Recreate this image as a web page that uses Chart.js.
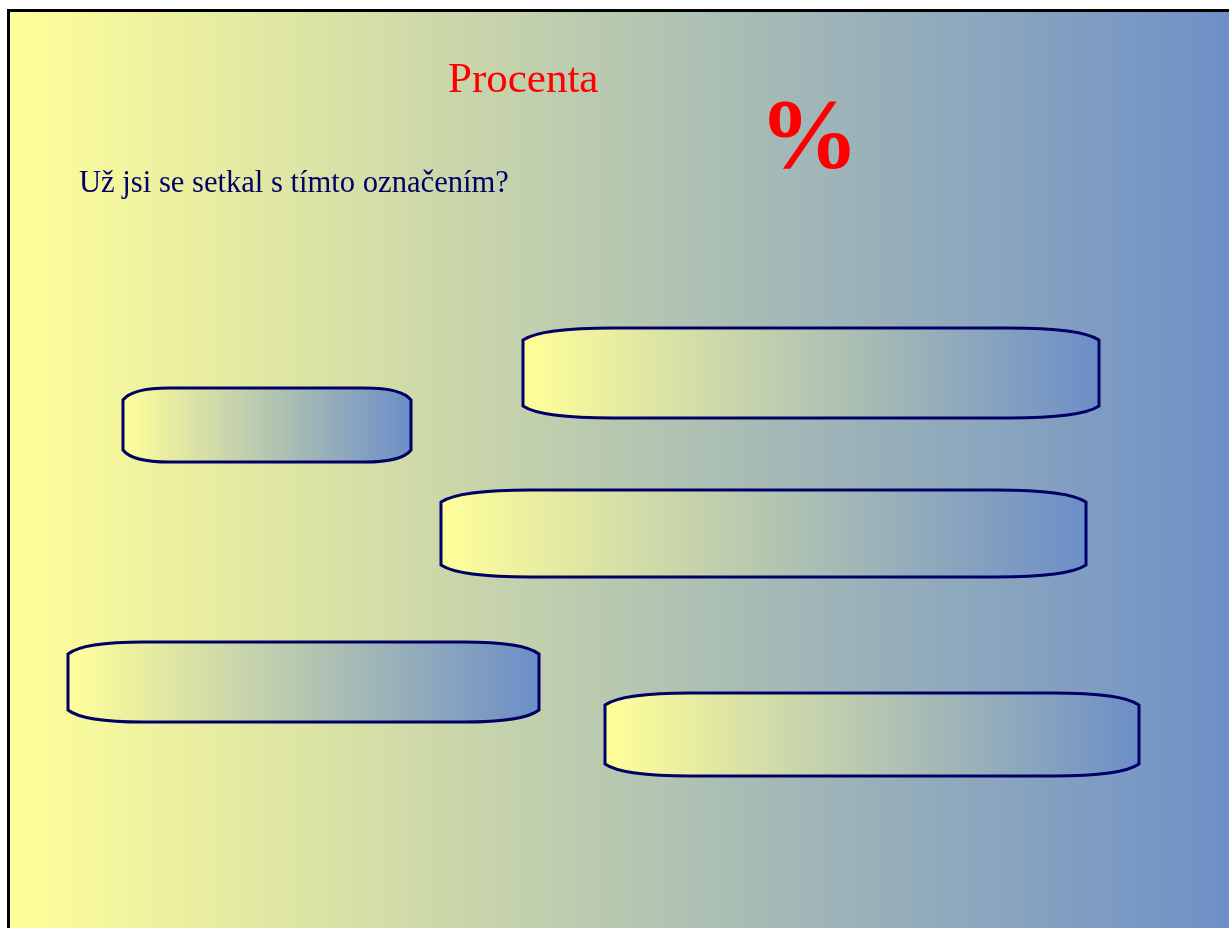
<!DOCTYPE html>
<html>
<head>
<meta charset="utf-8">
<script src="https://cdn.jsdelivr.net/npm/chart.js@4"></script>
<style>
  html, body { margin: 0; padding: 0; background: #fff; overflow: hidden; }
  #wrap { position: relative; width: 1229px; height: 928px; }
  #slide { position: absolute; left: 0; top: 0; }
  .txt { position: absolute; font-family: "Liberation Serif", "Times New Roman", serif; line-height: 1; white-space: nowrap; }
  #title { left: 448px; top: 56px; font-size: 43px; color: #ff0000; }
  #pct { left: 759px; top: 84px; font-size: 100px; font-weight: bold; color: #ff0000; }
  #question { left: 79px; top: 167px; font-size: 30.6px; color: #000066; }
</style>
</head>
<body>
<div id="wrap">
  <canvas id="slide" width="1229" height="928"></canvas>
  <div class="txt" id="title">Procenta</div>
  <div class="txt" id="pct">%</div>
  <div class="txt" id="question">Už jsi se setkal s tímto označením?</div>
</div>
<script>
// answer boxes on the slide, in slide units (x to the right, y downwards)
const boxNames = ['box 1', 'box 2', 'box 3', 'box 4', 'box 5'];
const boxLeft = [123, 523, 441, 68, 605];
const boxRight = [411, 1099, 1086, 539, 1139];
const boxTop = [388, 328, 490, 642, 693];
const boxBottom = [462, 418, 577, 722, 776];

const slideWidth = 1229;
const slideHeight = 928;

const yellow = [255, 255, 153];
const blue = [108, 142, 200];

function fade(ctx, x0, x1) {
    const g = ctx.createLinearGradient(x0, 0, x1, 0);
    g.addColorStop(0, `rgb(${yellow.join(',')})`);
    g.addColorStop(1, `rgb(${blue.join(',')})`);
    return g;
}

// slide background with the black frame
const slideBackground = {
    id: 'slideBackground',
    beforeDraw(chart) {
        const ctx = chart.ctx;
        ctx.save();
        ctx.fillStyle = '#ffffff';
        ctx.fillRect(0, 0, chart.width, chart.height);
        ctx.fillStyle = fade(ctx, 12, chart.width + 20);
        ctx.fillRect(9, 11, chart.width, chart.height);
        ctx.strokeStyle = '#000000';
        ctx.lineWidth = 3;
        ctx.beginPath();
        ctx.moveTo(8.5, chart.height + 5);
        ctx.lineTo(8.5, 10.5);
        ctx.lineTo(chart.width + 5, 10.5);
        ctx.stroke();
        ctx.restore();
    }
};

// draw each bar as a rounded "pill" box with its own gradient
const pillBoxes = {
    id: 'pillBoxes',
    afterDatasetsDraw(chart) {
        const ctx = chart.ctx;
        chart.data.datasets.forEach((ds, i) => {
            chart.getDatasetMeta(i).data.forEach(bar => {
                const p = bar.getProps(['x', 'y', 'base', 'height'], true);
                const l = Math.min(p.base, p.x), r = Math.max(p.base, p.x);
                const t = p.y - p.height / 2, b = p.y + p.height / 2;
                const rx = Math.min(90, (r - l) * 0.16), ry = 12;
                ctx.save();
                ctx.beginPath();
                ctx.moveTo(l, t + ry);
                ctx.quadraticCurveTo(l + rx * 0.2, t, l + rx, t);
                ctx.lineTo(r - rx, t);
                ctx.quadraticCurveTo(r - rx * 0.2, t, r, t + ry);
                ctx.lineTo(r, b - ry);
                ctx.quadraticCurveTo(r - rx * 0.2, b, r - rx, b);
                ctx.lineTo(l + rx, b);
                ctx.quadraticCurveTo(l + rx * 0.2, b, l, b - ry);
                ctx.closePath();
                ctx.fillStyle = fade(ctx, l, r);
                ctx.fill();
                ctx.strokeStyle = '#000066';
                ctx.lineWidth = 3;
                ctx.stroke();
                ctx.restore();
            });
        });
    }
};

const datasets = boxNames.map((name, i) => ({
    label: name,
    data: [{ x: [boxLeft[i], boxRight[i]], y: (boxTop[i] + boxBottom[i]) / 2 }],
    barThickness: ctx => {
        const ys = ctx.chart.scales.y;
        if (!ys) return boxBottom[i] - boxTop[i];
        return Math.abs(ys.getPixelForValue(boxBottom[i]) - ys.getPixelForValue(boxTop[i]));
    },
    grouped: false,
    backgroundColor: 'rgba(0,0,0,0)',
    borderWidth: 0
}));

new Chart(document.getElementById('slide'), {
    type: 'bar',
    data: { datasets },
    options: {
        indexAxis: 'y',
        responsive: false,
        animation: false,
        layout: { padding: 0 },
        scales: {
            x: { type: 'linear', min: 0, max: slideWidth, display: false },
            y: {
                type: 'linear', min: 0, max: slideHeight, reverse: true, display: false,
                offset: false, grid: { offset: false }
            }
        },
        plugins: {
            legend: { display: false },
            tooltip: { enabled: false }
        }
    },
    plugins: [slideBackground, pillBoxes]
});
</script>
</body>
</html>
